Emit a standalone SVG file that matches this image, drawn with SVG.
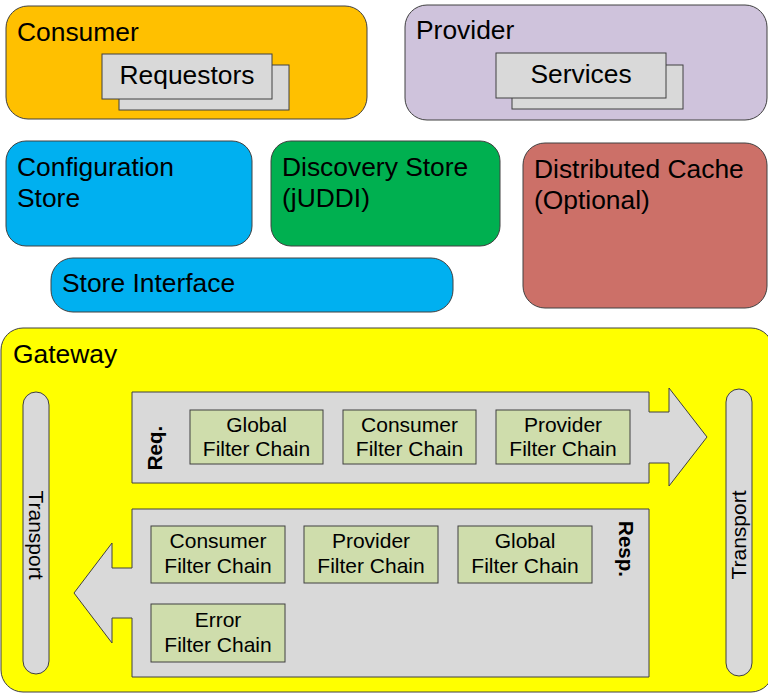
<svg xmlns="http://www.w3.org/2000/svg" width="768" height="694" viewBox="0 0 768 694">
<style>
text{font-family:"Liberation Sans",Arial,sans-serif;fill:#000}
.big{font-size:26.4px}
.fc{font-size:21px;text-anchor:middle}
.box{stroke:#404040;stroke-width:1}
.grey{fill:#D9D9D9;stroke:#404040;stroke-width:1}
.filt{fill:#CFDDAC;stroke:#404040;stroke-width:1}
.bold{font-weight:bold;font-size:20.5px;text-anchor:middle}
.tr{font-size:21px;text-anchor:middle}
</style>
<rect width="768" height="694" fill="#FFFFFF"/>
<g id="consumer">
<rect class="box" x="6" y="6" width="361" height="113" rx="22" fill="#FFC000"/>
<text class="big" x="17" y="41">Consumer</text>
<g id="requestors">
<rect class="grey" x="119" y="65" width="170" height="45"/>
<rect class="grey" x="102" y="54" width="170" height="45"/>
<text class="big" x="187" y="84" text-anchor="middle">Requestors</text>
</g>
</g>
<g id="provider">
<rect class="box" x="405" y="5" width="362" height="115" rx="22" fill="#CFC3DC"/>
<text class="big" x="416" y="39">Provider</text>
<g id="services">
<rect class="grey" x="512" y="65" width="171" height="44"/>
<rect class="grey" x="496" y="53" width="170" height="45"/>
<text class="big" x="581" y="83" text-anchor="middle">Services</text>
</g>
</g>
<g id="config-store">
<rect class="box" x="6" y="141" width="246" height="105" rx="20" fill="#00B0F0"/>
<text class="big" x="17" y="176">Configuration</text>
<text class="big" x="17" y="207">Store</text>
</g>
<g id="discovery-store">
<rect class="box" x="271" y="141" width="229" height="105" rx="20" fill="#00B050"/>
<text class="big" x="282" y="176">Discovery Store</text>
<text class="big" x="282" y="207">(jUDDI)</text>
</g>
<g id="store-interface">
<rect class="box" x="51" y="258" width="402" height="54" rx="22" fill="#00B0F0"/>
<text class="big" x="62" y="292">Store Interface</text>
</g>
<g id="distributed-cache">
<rect class="box" x="523" y="143" width="244" height="165" rx="22" fill="#CC7068"/>
<text class="big" x="534" y="178">Distributed Cache</text>
<text class="big" x="534" y="209">(Optional)</text>
</g>
<g id="gateway">
<rect class="box" x="1" y="328" width="772" height="364" rx="22" fill="#FFFF00"/>
<text class="big" x="13" y="363">Gateway</text>
</g>
<g id="transport-left">
<rect class="grey" x="23" y="392" width="26" height="282" rx="13"/>
<text class="tr" transform="translate(36,535) rotate(90)" x="0" y="7">Transport</text>
</g>
<g id="transport-right">
<rect class="grey" x="726" y="389" width="26" height="287" rx="13"/>
<text class="tr" transform="translate(739,535) rotate(-90)" x="0" y="7">Transport</text>
</g>
<g id="connectors">
<path id="req-arrow" class="grey" d="M132,392 H649 V412 H669 V388 L707,437 L669,486 V463 H649 V483 H132 Z"/>
<path id="resp-arrow" class="grey" d="M649,509 V677 H132 V618 H112 V643 L74,593 L112,543 V568 H132 V509 Z"/>
</g>
<g id="req-label"><text class="bold" transform="translate(155,448) rotate(-90)" x="0" y="7">Req.</text></g>
<g id="resp-label"><text class="bold" transform="translate(626,549) rotate(90)" x="0" y="7">Resp.</text></g>
<g id="req-global">
<rect class="filt" x="190" y="410" width="133" height="54"/>
<text class="fc" x="256.5" y="432">Global</text>
<text class="fc" x="256.5" y="456">Filter Chain</text>
</g>
<g id="req-consumer">
<rect class="filt" x="343" y="410" width="133" height="54"/>
<text class="fc" x="409.5" y="432">Consumer</text>
<text class="fc" x="409.5" y="456">Filter Chain</text>
</g>
<g id="req-provider">
<rect class="filt" x="496" y="410" width="134" height="54"/>
<text class="fc" x="563" y="432">Provider</text>
<text class="fc" x="563" y="456">Filter Chain</text>
</g>
<g id="resp-consumer">
<rect class="filt" x="151" y="526" width="134" height="57"/>
<text class="fc" x="218" y="548">Consumer</text>
<text class="fc" x="218" y="573">Filter Chain</text>
</g>
<g id="resp-provider">
<rect class="filt" x="304" y="526" width="134" height="57"/>
<text class="fc" x="371" y="548">Provider</text>
<text class="fc" x="371" y="573">Filter Chain</text>
</g>
<g id="resp-global">
<rect class="filt" x="458" y="526" width="134" height="57"/>
<text class="fc" x="525" y="548">Global</text>
<text class="fc" x="525" y="573">Filter Chain</text>
</g>
<g id="resp-error">
<rect class="filt" x="151" y="604" width="134" height="58"/>
<text class="fc" x="218" y="627">Error</text>
<text class="fc" x="218" y="652">Filter Chain</text>
</g>
</svg>
